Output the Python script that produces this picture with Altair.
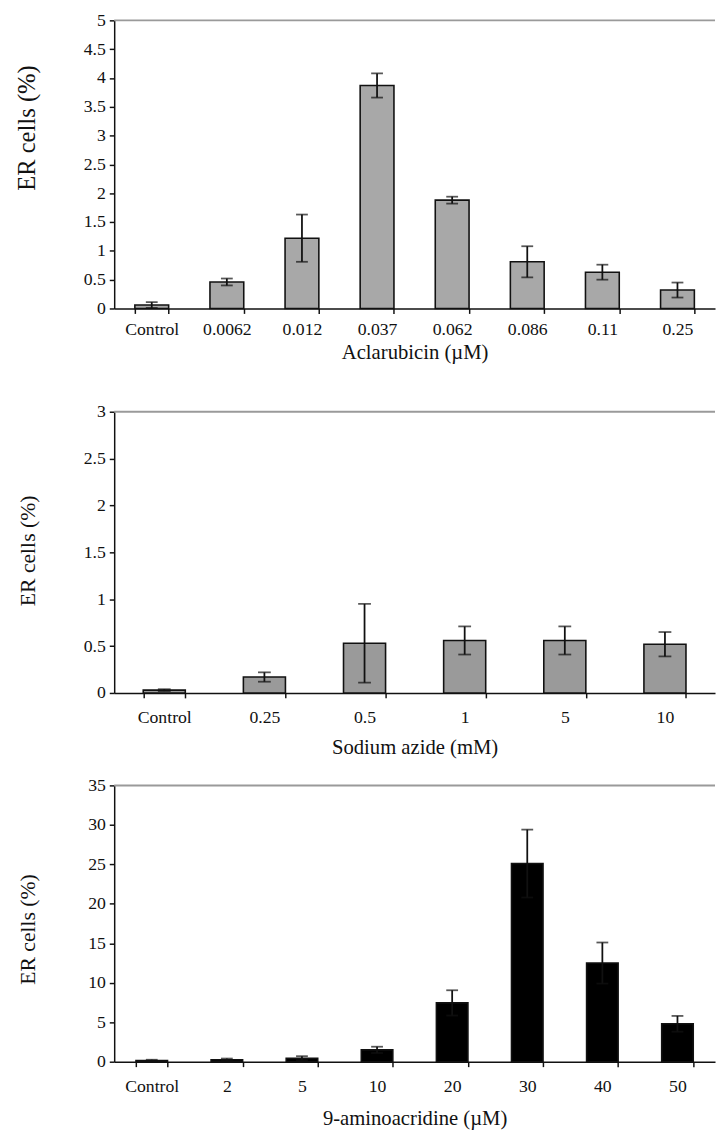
import altair as alt
import pandas as pd

# ---- data ----
acl_conc = ["Control", "0.0062", "0.012", "0.037", "0.062", "0.086", "0.11", "0.25"]
acl_mean = [0.06, 0.46, 1.22, 3.87, 1.88, 0.81, 0.63, 0.32]
acl_err = [0.05, 0.06, 0.41, 0.21, 0.06, 0.27, 0.13, 0.13]

az_conc = ["Control", "0.25", "0.5", "1", "5", "10"]
az_mean = [0.03, 0.17, 0.53, 0.56, 0.56, 0.52]
az_err = [0.01, 0.05, 0.42, 0.15, 0.15, 0.13]

aa_conc = ["Control", "2", "5", "10", "20", "30", "40", "50"]
aa_mean = [0.15, 0.25, 0.45, 1.5, 7.45, 25.1, 12.5, 4.8]
aa_err = [0.1, 0.15, 0.25, 0.4, 1.6, 4.3, 2.6, 1.0]

acl_ticks = [0, 0.5, 1, 1.5, 2, 2.5, 3, 3.5, 4, 4.5, 5]
az_ticks = [0, 0.5, 1, 1.5, 2, 2.5, 3]
aa_ticks = [0, 5, 10, 15, 20, 25, 30, 35]

FONT = "Liberation Serif"
INK = "#111111"
W = 611


def panel(cats, means, errs, ticks, fill, xtitle, h, pad_inner,
          title_y, ytitle_size, label_pad, title_pad, cap):
    df = pd.DataFrame({"c": cats, "m": means, "e": errs})
    df["lo"] = df["m"] - df["e"]
    df["hi"] = df["m"] + df["e"]
    df["t"] = ticks[-1]
    xaxis = alt.Axis(
        title=xtitle, labelAngle=0, tickBand="extent", tickSize=5,
        labelPadding=label_pad, titlePadding=title_pad,
        labelFont=FONT, titleFont=FONT, labelFontSize=18, titleFontSize=21,
        titleFontWeight="normal", labelColor=INK, titleColor=INK,
        domainColor=INK, tickColor=INK, domainWidth=1.5, tickWidth=1.5,
    )
    xscale = alt.Scale(paddingInner=pad_inner, paddingOuter=pad_inner / 2)
    yscale = alt.Scale(domain=[0, ticks[-1]], nice=False)
    yaxis = alt.Axis(
        title="ER cells (%)", values=ticks, format="~g", grid=False,
        tickSize=5, labelPadding=4, labelFont=FONT, titleFont=FONT,
        labelFontSize=18, titleFontSize=ytitle_size, titleFontWeight="normal",
        titleX=-76, titleY=title_y, labelColor=INK, titleColor=INK,
        domainColor=INK, tickColor=INK, domainWidth=1.5, tickWidth=1.5,
    )

    def X():
        return alt.X("c:N", sort=cats, scale=xscale, axis=xaxis)

    def Y(field):
        return alt.Y(field, scale=yscale, axis=yaxis)

    base = alt.Chart(df)
    bars = base.mark_bar(fill=fill, stroke=INK, strokeWidth=1.6).encode(
        x=X(), y=Y("m:Q")
    )
    whisk = base.mark_rule(color=INK, strokeWidth=1.8).encode(
        x=X(), y=Y("lo:Q"), y2="hi:Q"
    )
    cap_hi = base.mark_tick(color=INK, thickness=1.8, size=cap, orient="horizontal").encode(
        x=X(), y=Y("hi:Q")
    )
    cap_lo = base.mark_tick(color=INK, thickness=1.8, size=cap, orient="horizontal").encode(
        x=X(), y=Y("lo:Q")
    )
    top = base.mark_rule(color="#9a9a9a", strokeWidth=2).encode(
        y=Y("max(t):Q")
    )
    return alt.layer(bars, whisk, cap_hi, cap_lo, top).properties(width=W, height=h)


p1 = panel(acl_conc, acl_mean, acl_err, acl_ticks, "#a8a8a8",
           "Aclarubicin (\u00b5M)", 293, 0.55, 109, 25, 7, 4, 12)
p2 = panel(az_conc, az_mean, az_err, az_ticks, "#9a9a9a",
           "Sodium azide (mM)", 286, 0.58, 141, 22, 11, 11, 13)
p3 = panel(aa_conc, aa_mean, aa_err, aa_ticks, "#000000",
           "9-aminoacridine (\u00b5M)", 281, 0.58, 146, 22, 11, 13, 12)

chart = alt.vconcat(
    p1,
    alt.vconcat(p2, p3, spacing=19),
    spacing=41,
).properties(
    padding={"left": 6, "top": -6, "right": 0, "bottom": 0}
).configure_view(stroke=None).resolve_scale(y="independent", x="independent")

chart.save("out.html", embed_options={"renderer": "svg", "actions": False})
